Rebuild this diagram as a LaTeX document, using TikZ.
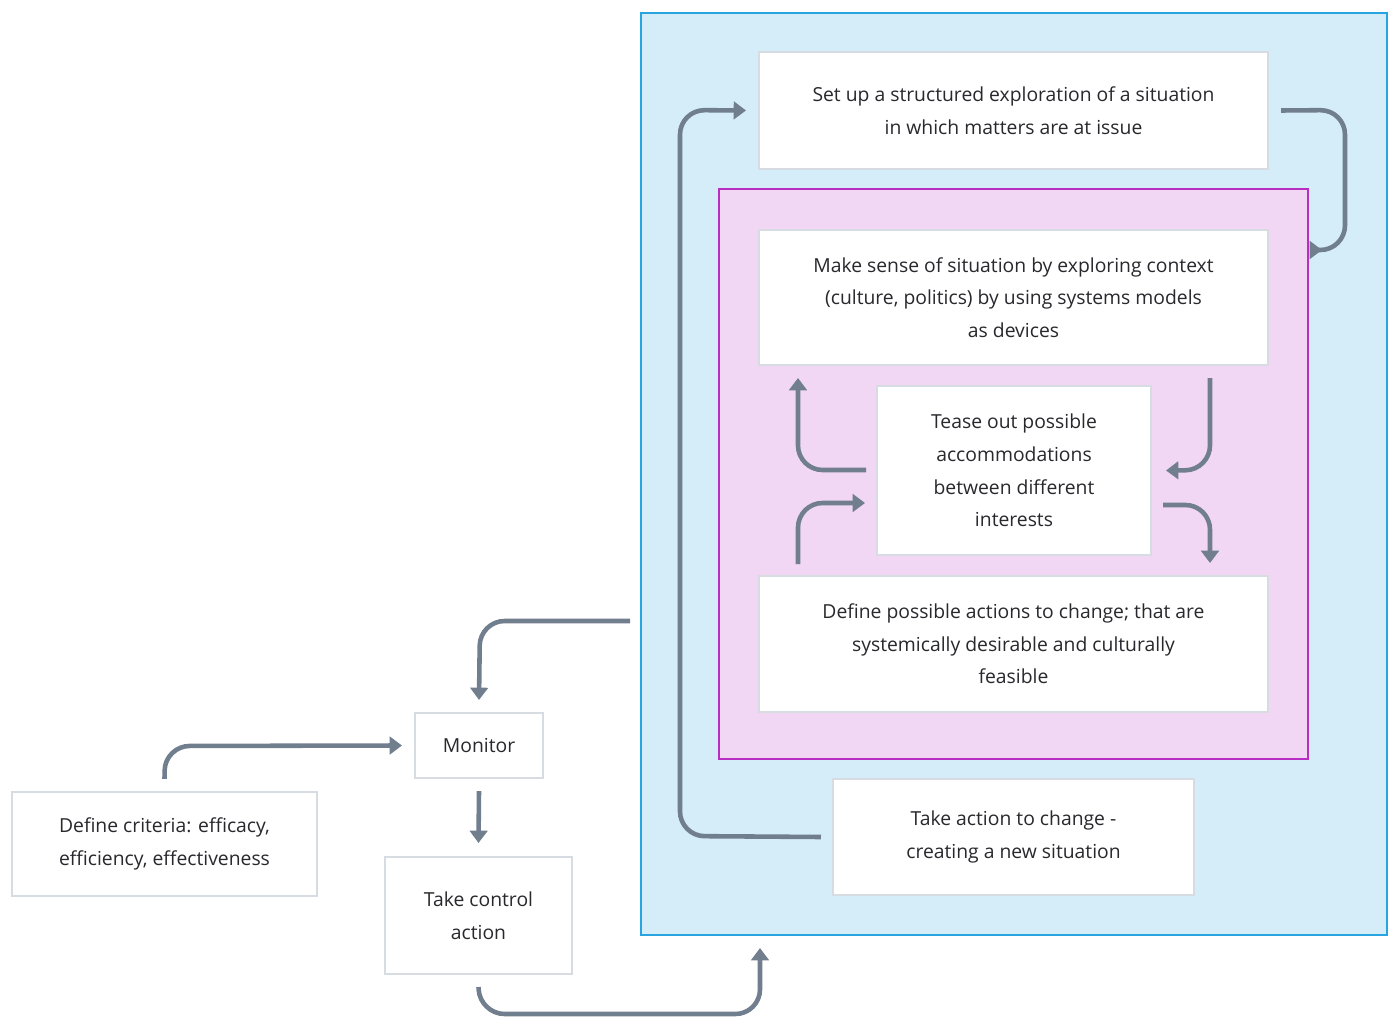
\documentclass[tikz,border=0pt]{standalone}
\usepackage{fontspec}
\setmainfont{Open Sans}
\usetikzlibrary{calc,arrows.meta}
\definecolor{ssmblue}{RGB}{212,237,248}
\definecolor{ssmblueline}{RGB}{40,165,225}
\definecolor{ssmpink}{RGB}{241,215,243}
\definecolor{ssmpinkline}{RGB}{185,45,195}
\definecolor{ssmarrow}{RGB}{112,126,142}
\definecolor{ssmbox}{RGB}{214,220,226}
\definecolor{ssmtext}{RGB}{40,40,45}
\tikzset{
  stepbox/.style={draw=ssmbox, line width=1.2pt, fill=white, align=center,
    text=ssmtext, font=\fontsize{11}{18.5}\selectfont, inner sep=4pt},
  flow/.style={draw=ssmarrow, line width=2.6pt, rounded corners=14pt,
    -{Triangle[length=7pt,width=10pt]}}
}
\begin{document}
\begin{tikzpicture}[x=0.02cm,y=-0.02cm]
  \useasboundingbox (0,0) rectangle (1400,1034);
  % frames
  \node[draw=ssmblueline, line width=1.3pt, fill=ssmblue, minimum width=14.92cm, minimum height=18.44cm] (outer) at (1014,474) {};
  \node[draw=ssmpinkline, line width=1.3pt, fill=ssmpink, minimum width=11.78cm, minimum height=11.4cm] (inner) at (1013.5,474) {};
  % steps
  \node[stepbox, minimum width=10.18cm, minimum height=2.34cm] (explore) at (1013.5,110.5) {Set up a structured exploration of a situation\\in which matters are at issue};
  \node[stepbox, minimum width=10.18cm, minimum height=2.7cm] (sense) at (1013.5,297.5) {Make sense of situation by exploring context\\(culture, politics) by using systems models\\as devices};
  \node[stepbox, minimum width=5.48cm, minimum height=3.38cm] (tease) at (1014,470.5) {Tease out possible\\accommodations\\between different\\interests};
  \node[stepbox, minimum width=10.18cm, minimum height=2.72cm] (define) at (1013.5,644) {Define possible actions to change; that are\\systemically desirable and culturally\\feasible};
  \node[stepbox, minimum width=7.22cm, minimum height=2.32cm] (action) at (1013.5,837) {Take action to change -\\creating a new situation};
  \node[stepbox, minimum width=2.56cm, minimum height=1.3cm] (monitor) at (479,745.5) {Monitor};
  \node[stepbox, minimum width=6.1cm, minimum height=2.08cm] (criteria) at (164.5,844) {Define criteria: efficacy,\\efficiency, effectiveness};
  \node[stepbox, minimum width=3.74cm, minimum height=2.34cm] (control) at (478.5,915.5) {Take control\\action};
  % outer loop
  \draw[flow] ($(explore.east)+(12,0)$) -- (1345,110) -- (1345,250) -- (1322,250);
  \draw[flow] ($(action.west)+(-11,0)$) -- (680,836) -- (680,110) -- ($(explore.west)+(-12,0)$);
  % inner loop
  \draw[flow] (1210,378) -- (1210,470) -- ($(tease.east)+(14,0)$);
  \draw[flow] (1163,505) -- (1210,505) -- (1210,563);
  \draw[flow] (798,564) -- (798,503) -- (865,503);
  \draw[flow] (866,470) -- (798,470) -- (798,378);
  % control loop
  \draw[flow] (630,621) -- (480,621) -- ($(monitor.north)+(0,-12)$);
  \draw[flow] ($(criteria.north)+(0,-12)$) -- (165,746) -- ($(monitor.west)+(-12,0)$);
  \draw[flow] ($(monitor.south)+(0,12)$) -- ($(control.north)+(0,-13)$);
  \draw[flow] ($(control.south)+(0,12)$) -- (480,1014) -- (760,1014) -- ($(outer.south)+(-254,12)$);
\end{tikzpicture}
\end{document}
